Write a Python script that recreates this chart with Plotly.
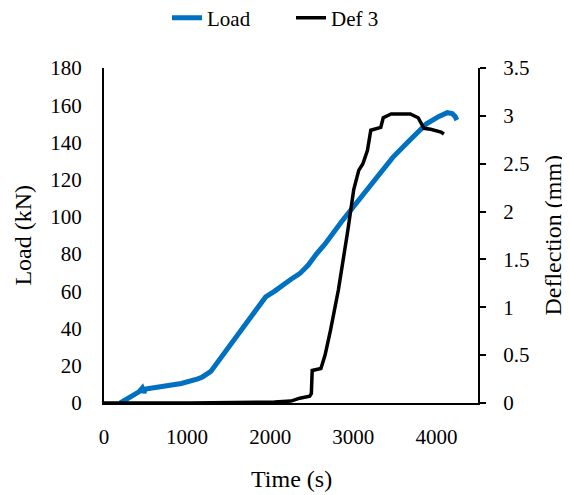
import plotly.graph_objects as go

# Load curve (kN) vs time (s)
load_time = [195, 315, 420, 460, 480, 500, 570, 725, 930, 1130, 1185, 1285, 1435, 1640, 1845, 1945,
             2050, 2150, 2250, 2355, 2455, 2555, 2660, 2860, 3065, 3270, 3475, 3675, 3880, 4030,
             4130, 4190, 4225, 4245]
load_kn = [0, 3, 6, 8, 5.5, 7.5, 8, 9, 10.5, 13, 14, 17, 26, 39, 51, 57,
           60, 63.5, 66.5, 69.5, 74, 80, 85.5, 97.5, 109, 121, 132, 141, 150, 154,
           156, 155.5, 154, 152]

# Deflection 3 (mm) vs time (s)
def_time = [0, 1030, 2050, 2250, 2355, 2475, 2495, 2505, 2610, 2660, 2725, 2820, 2935, 3005,
            3065, 3115, 3170, 3210, 3330, 3360, 3455, 3685, 3780, 3850, 3930, 4055, 4090]
def_mm = [0, 0, 0.01, 0.02, 0.05, 0.07, 0.1, 0.34, 0.36, 0.5, 0.76, 1.18, 1.81, 2.23,
          2.43, 2.5, 2.64, 2.85, 2.88, 2.98, 3.02, 3.02, 2.98, 2.87, 2.86, 2.83, 2.81]

x_ticks = [0, 1000, 2000, 3000, 4000]
load_ticks = [0, 20, 40, 60, 80, 100, 120, 140, 160, 180]
def_ticks = [0, 0.5, 1, 1.5, 2, 2.5, 3, 3.5]
def_tick_text = ["0", "0.5", "1", "1.5", "2", "2.5", "3", "3.5"]

font = "Liberation Serif"
clear = "rgba(0,0,0,0)"

fig = go.Figure()

fig.add_trace(go.Scatter(
    x=load_time,
    y=load_kn,
    name="Load",
    mode="lines",
    line=dict(color="#0070C0", width=5)
))

fig.add_trace(go.Scatter(
    x=def_time,
    y=def_mm,
    name="Def 3",
    mode="lines",
    yaxis="y2",
    line=dict(color="black", width=3.5)
))

# axis titles as paper annotations so they sit at fixed spots
titles = [
    dict(text="Time (s)", x=0.5, y=-0.227, textangle=0),
    dict(text="Load (kN)", x=-0.219, y=0.5, textangle=-90),
    dict(text="Deflection (mm)", x=1.198, y=0.5, textangle=-90),
]
for t in titles:
    fig.add_annotation(
        text=t["text"],
        x=t["x"],
        y=t["y"],
        xref="paper",
        yref="paper",
        xanchor="center",
        yanchor="middle",
        textangle=t["textangle"],
        showarrow=False,
        font=dict(family=font, size=24, color="black")
    )

# page body adds an 8px offset, margins are set to compensate
# invisible major ticks push the labels away from the axis lines
fig.update_layout(
    width=570,
    height=495,
    margin=dict(l=96, r=100, t=60, b=100, autoexpand=False),
    paper_bgcolor="white",
    plot_bgcolor="white",
    font=dict(family=font, size=21, color="black"),
    showlegend=True,
    legend=dict(
        orientation="h",
        x=0.5,
        xanchor="center",
        y=1.149,
        yanchor="middle",
        font=dict(family=font, size=21),
        itemwidth=30,
        entrywidth=79,
        entrywidthmode="pixels"
    ),
    xaxis=dict(
        range=[0, 4500],
        tickvals=x_ticks,
        tickfont=dict(family=font, size=21),
        showgrid=False,
        zeroline=False,
        showline=True,
        linecolor="black",
        linewidth=2,
        ticks="outside",
        ticklen=14,
        tickcolor=clear
    ),
    yaxis=dict(
        range=[0, 180],
        tickvals=load_ticks,
        tickfont=dict(family=font, size=21),
        showgrid=False,
        zeroline=False,
        showline=True,
        linecolor="black",
        linewidth=2,
        ticks="outside",
        ticklen=16,
        tickcolor=clear
    ),
    yaxis2=dict(
        range=[0, 3.5],
        tickvals=def_ticks,
        ticktext=def_tick_text,
        tickfont=dict(family=font, size=21),
        overlaying="y",
        side="right",
        showgrid=False,
        zeroline=False,
        showline=True,
        linecolor="black",
        linewidth=2,
        ticks="outside",
        ticklen=19,
        tickcolor=clear,
        minor=dict(
            tickvals=def_ticks,
            ticks="outside",
            ticklen=6,
            tickwidth=2,
            tickcolor="black"
        )
    )
)

fig.write_html("out.html")
